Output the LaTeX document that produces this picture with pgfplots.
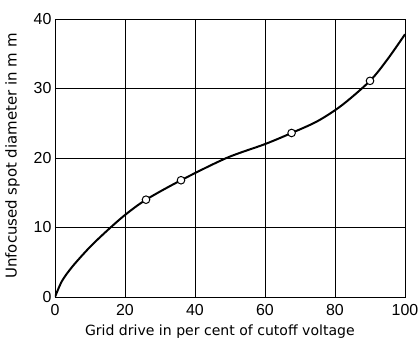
\documentclass[border=0pt]{standalone}
\usepackage{fontspec}
\setmainfont{Liberation Sans}
\newfontfamily\lblfont{DejaVu Sans}
\usepackage{pgfplots}
\pgfplotsset{compat=1.18}
\begin{document}
\begin{tikzpicture}
\path[use as bounding box] (-55bp,-47bp) rectangle (365bp,297bp);
\begin{axis}[
    at={(0,0)}, anchor=south west,
    scale only axis, width=350bp, height=278bp,
    xmin=0, xmax=100, ymin=0, ymax=40,
    xtick={0,20,...,100}, ytick={0,10,...,40},
    major tick length=0pt,
    grid=major, grid style={black, line width=0.8pt},
    axis line style={line width=1pt},
    tick label style={font=\fontsize{16}{16}\selectfont},
    /pgf/number format/assume math mode=true,
    xticklabel style={yshift=-4bp},
    xlabel={Grid drive in per cent of cutoff voltage},
    ylabel={Unfocused spot diameter in m m},
    xlabel style={font=\lblfont\fontsize{14.1}{14}\selectfont,
        at={(axis description cs:0.471,-0.1367)}, anchor=base},
    ylabel style={font=\lblfont\fontsize{15}{15}\selectfont,
        at={(axis description cs:-0.1214,0.507)}, anchor=center},
]
% measured curve
\addplot[black, line width=2pt, smooth] coordinates {
    (0,0) (2,2.3) (5,4.4) (10,7.2) (15,9.6) (20,11.8) (26,14)
    (36,16.8) (49,20) (60,22) (67.6,23.6) (75,25.3) (82,27.6)
    (90,31.1) (95,34.2) (100,37.8)
};
% observed points
\addplot[only marks, mark=*, mark size=3.8bp, mark options={fill=white, draw=black, line width=1pt}] coordinates {
    (26,14) (36,16.8) (67.6,23.6) (90,31.1)
};
\end{axis}
\end{tikzpicture}
\end{document}
